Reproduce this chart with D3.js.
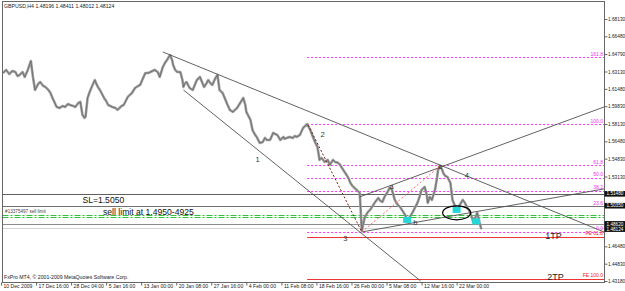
<!DOCTYPE html>
<html>
<head>
<meta charset="utf-8">
<script src="https://cdn.jsdelivr.net/npm/d3@7"></script>
<style>
  body { margin: 0; background: #fff; }
  svg { display: block; }
  text { font-family: "Liberation Sans", Arial, sans-serif; }
</style>
</head>
<body>
<div id="chart"></div>
<script>
// GBPUSD H4
var timeLabels = ["10 Dec 2009", "17 Dec 16:00", "28 Dec 04:00", "5 Jan 16:00", "13 Jan 00:00",
  "20 Jan 08:00", "27 Jan 16:00", "4 Feb 00:00", "11 Feb 08:00", "18 Feb 16:00",
  "26 Feb 00:00", "5 Mar 08:00", "12 Mar 16:00", "22 Mar 00:00"];
var barsPerLabel = 34;

// 1.51480 / 1.49830 / 1.48130 sit under the black price tags, so they are not shown
var priceTicks = [1.68130, 1.66480, 1.64790, 1.63130, 1.61480, 1.59830, 1.58130, 1.56480,
  1.54830, 1.53130, 1.46480, 1.44830, 1.43180];

// bar number / close
var barNo = [2,5,8,11,14,16,18,21,23,26,29,31,33,36,38,41,43,46,48,50,54,57,60,62,65,67,70,72,75,77,
  79,81,82,84,86,88,91,93,94,96,98,100,102,104,106,108,111,113,115,117,119,121,123,125,127,130,133,135,137,140,
  143,145,147,149,152,154,157,159,161,164,166,167,169,171,174,176,177,178,180,183,186,188,190,193,195,197,199,201,203,205,
  208,210,212,215,217,219,222,225,227,229,232,235,237,238,240,242,244,246,248,251,254,256,258,261,264,266,268,271,274,275,
  277,280,283,285,287,290,293,295,297,300,303,305,307,309,311,314,317,319,322,324,327,329,332,334,337,339,341,343,346,348,
  350,351,353,356,358,360,363,366,368,370,372,375,377,379,382,385,387,389,392,394,396,399,402,404,406,408,411,413,414,416,
  418,421,423,424,426,428,429,431,433,436,437,438,440,442,444,445,448,450,452,455,457,458,460,462,464,466];
var closes = [1.6299,1.6328,1.6289,1.6318,1.6308,1.6270,1.6280,1.6308,1.6261,1.6328,1.6413,1.6261,1.6137,1.6194,1.6213,1.6175,1.6166,1.6137,1.6108,1.6061,
  1.5975,1.5966,1.5985,1.5975,1.6004,1.5994,1.5985,1.5975,1.6013,1.6023,1.5900,1.5871,1.5881,1.6061,1.6118,1.6166,1.6232,1.6185,1.6166,1.6137,
  1.6099,1.6061,1.6032,1.5994,1.5985,1.5975,1.5966,1.5947,1.5966,1.5985,1.5994,1.6032,1.6071,1.6090,1.6108,1.6156,1.6175,1.6185,1.6232,1.6299,
  1.6299,1.6308,1.6318,1.6328,1.6308,1.6261,1.6356,1.6394,1.6423,1.6470,1.6423,1.6375,1.6328,1.6308,1.6308,1.6232,1.6166,1.6194,1.6213,1.6156,
  1.6137,1.6185,1.6232,1.6261,1.6213,1.6166,1.6194,1.6232,1.6204,1.6185,1.6251,1.6280,1.6137,1.6108,1.6061,1.6013,1.5947,1.5928,1.5947,1.5966,
  1.6013,1.6061,1.5994,1.5928,1.5890,1.5852,1.5756,1.5718,1.5690,1.5633,1.5642,1.5680,1.5661,1.5661,1.5728,1.5718,1.5709,1.5661,1.5690,1.5671,
  1.5680,1.5690,1.5680,1.5699,1.5690,1.5709,1.5775,1.5794,1.5813,1.5756,1.5680,1.5633,1.5595,1.5471,1.5490,1.5452,1.5471,1.5423,1.5471,1.5452,
  1.5443,1.5423,1.5376,1.5347,1.5300,1.5252,1.5223,1.5204,1.5176,1.5157,1.4795,1.4842,1.4928,1.4976,1.4995,1.5024,1.5071,1.5109,1.5081,1.5071,
  1.5119,1.5166,1.5204,1.5195,1.5090,1.5042,1.5024,1.4995,1.4948,1.4900,1.4919,1.4967,1.5024,1.5062,1.5119,1.5185,1.5214,1.5138,1.5062,1.5119,
  1.5090,1.5185,1.5300,1.5376,1.5414,1.5376,1.5347,1.5318,1.5309,1.5252,1.5166,1.5090,1.5042,1.5014,1.5024,1.5042,1.5090,1.5062,1.5024,1.4976,
  1.4919,1.4881,1.4919,1.4967,1.4881,1.4812];

// trend lines [bar, price] pairs
var trendLines = [
  [[157, 1.6499], [585, 1.4785]],
  [[177, 1.6137], [407, 1.4319]],
  [[348, 1.5119], [585, 1.5975]],
  [[350, 1.4785], [585, 1.5195]]
];
var waveDotted = [[298, 1.5804], [350, 1.4785]];
var fibDiagonal = [[350, 1.4785], [426, 1.5414]];

// fibo retracement + expansion
var fibLow = 1.4785, fibHigh = 1.5813, fibStartBar = 297;
var fibRatios = [0, 23.6, 38.2, 50.0, 61.8, 100.0, 161.8];
var feLevels = [1.4738, 1.4338];
var feNames = ["FE 61.8", "FE 100.0"];

// horizontal lines
var greyLevels = [1.5148, 1.5035, 1.4862, 1.4818];
var greenLevels = [1.4950, 1.4925];
var tagLevels = [1.5148, 1.5035, 1.4862, 1.4812];
var tagTexts = ["1.51480", "1.50350", "1.48620", "1.48124"];

// markers
var waveNames = ["1", "2", "3", "a", "b", "c", "4"];
var waveBars = [249, 312, 334, 379, 402, 426, 452];
var wavePrices = [1.5480, 1.5718, 1.4728, 1.5223, 1.4881, 1.5414, 1.5328];
var boxBars = [394, 442, 461];
var boxPrices = [1.4900, 1.4995, 1.4886];
var circleBar = 442, circlePrice = 1.4967;

var svgWidth = 625, svgHeight = 291;
var plot = { left: 2.5, top: 1.5, right: 604.5, bottom: 282.5 };

var svg = d3.select("#chart").append("svg")
  .attr("width", svgWidth)
  .attr("height", svgHeight);

var x = d3.scaleLinear().domain([0, 584]).range([1, 603]);
var y = d3.scaleLinear().domain([1.4318, 1.6813]).range([281, 19]);

svg.append("clipPath").attr("id", "clip")
  .append("rect")
  .attr("x", plot.left).attr("y", plot.top)
  .attr("width", plot.right - plot.left).attr("height", plot.bottom - plot.top);

var g = svg.append("g").attr("clip-path", "url(#clip)");

function py(p) { return Math.round(y(p)) + 0.5; }

// fibo levels
var fibs = fibRatios.map(function(r) { return { r: r, p: fibLow + (fibHigh - fibLow) * r / 100 }; });
g.selectAll(".fib").data(fibs).enter().append("line")
  .attr("x1", x(fibStartBar)).attr("x2", plot.right)
  .attr("y1", d => py(d.p)).attr("y2", d => py(d.p))
  .attr("stroke", "#ff33ff").attr("stroke-dasharray", "2,2");

g.selectAll(".fe").data(feLevels).enter().append("line")
  .attr("x1", x(fibStartBar)).attr("x2", plot.right)
  .attr("y1", d => py(d)).attr("y2", d => py(d))
  .attr("stroke", "#ee3333");

// grey horizontal lines
var greyCols = ["#606060", "#707070", "#8c8c8c", "#d4d4d4"];
g.selectAll(".hl").data(greyLevels).enter().append("line")
  .attr("x1", plot.left).attr("x2", plot.right)
  .attr("y1", d => py(d)).attr("y2", d => py(d))
  .attr("stroke", (d, i) => greyCols[i]);

g.selectAll(".gl").data(greenLevels).enter().append("line")
  .attr("x1", plot.left).attr("x2", plot.right)
  .attr("y1", d => py(d)).attr("y2", d => py(d))
  .attr("stroke", "#2fc23a").attr("stroke-dasharray", "6,2,2,2");

// price
var priceLine = d3.line()
  .x((d, i) => x(barNo[i]))
  .y(d => y(d));

g.append("path").datum(closes)
  .attr("d", priceLine)
  .attr("fill", "none").attr("stroke", "#a0a0a0").attr("stroke-width", 2.6)
  .attr("stroke-linejoin", "round");
g.append("path").datum(closes)
  .attr("d", priceLine)
  .attr("fill", "none").attr("stroke", "#666").attr("stroke-width", 0.8);

// trend lines
g.selectAll(".tl").data(trendLines).enter().append("line")
  .attr("x1", d => x(d[0][0])).attr("y1", d => y(d[0][1]))
  .attr("x2", d => x(d[1][0])).attr("y2", d => y(d[1][1]))
  .attr("stroke", "#505050").attr("stroke-width", 0.9);

g.append("line")
  .attr("x1", x(waveDotted[0][0])).attr("y1", y(waveDotted[0][1]))
  .attr("x2", x(waveDotted[1][0])).attr("y2", y(waveDotted[1][1]))
  .attr("stroke", "#7a1f1f").attr("stroke-dasharray", "2,2");

g.append("line")
  .attr("x1", x(fibDiagonal[0][0])).attr("y1", y(fibDiagonal[0][1]))
  .attr("x2", x(fibDiagonal[1][0])).attr("y2", y(fibDiagonal[1][1]))
  .attr("stroke", "#ff6a6a").attr("stroke-dasharray", "2,2");

// cyan boxes
g.selectAll(".box").data(boxBars).enter().append("rect")
  .attr("x", d => x(d) - 4).attr("y", (d, i) => y(boxPrices[i]) - 3)
  .attr("width", 8).attr("height", 6)
  .attr("fill", "#22d8d8");

g.append("ellipse")
  .attr("cx", x(circleBar)).attr("cy", y(circlePrice))
  .attr("rx", 14).attr("ry", 7)
  .attr("fill", "none").attr("stroke", "#000").attr("stroke-width", 1.2);

// wave labels
g.selectAll(".wave").data(waveNames).enter().append("text")
  .attr("x", (d, i) => x(waveBars[i]))
  .attr("y", (d, i) => y(wavePrices[i]))
  .attr("dy", "0.35em")
  .attr("text-anchor", "middle")
  .attr("font-size", 7.5)
  .attr("fill", "#333")
  .text(d => d);

// fib labels
g.selectAll(".fibt").data(fibs).enter().append("text")
  .attr("x", 603).attr("y", d => y(d.p) - 1.5)
  .attr("text-anchor", "end").attr("font-size", 5).attr("fill", "#f030f0")
  .text(d => d.r.toFixed(1));

g.selectAll(".fet").data(feLevels).enter().append("text")
  .attr("x", 603).attr("y", d => y(d) - 1.5)
  .attr("text-anchor", "end").attr("font-size", 5).attr("fill", "#f02020")
  .text((d, i) => feNames[i]);

// order texts
g.append("text").attr("x", x(79)).attr("y", y(1.5062))
  .attr("font-size", 8.6).attr("fill", "#111").text("SL=1.5050");
g.append("text").attr("x", x(99)).attr("y", y(1.4947))
  .attr("font-size", 8.6).attr("fill", "#111").text("sell limit at 1.4950-4925");
g.append("text").attr("x", x(4)).attr("y", y(1.4961))
  .attr("font-size", 4.6).attr("fill", "#444").text("#13375497 sell limit");
g.append("text").attr("x", x(528)).attr("y", y(1.4719))
  .attr("font-size", 9).attr("fill", "#222").text("1TP");
g.append("text").attr("x", x(530)).attr("y", y(1.4328))
  .attr("font-size", 9).attr("fill", "#222").text("2TP");

// frame
svg.append("rect")
  .attr("x", plot.left).attr("y", plot.top)
  .attr("width", plot.right - plot.left).attr("height", plot.bottom - plot.top)
  .attr("fill", "none").attr("stroke", "#666");

// price axis
var rightAxis = d3.axisRight(y)
  .tickValues(priceTicks)
  .tickFormat(d3.format(".5f"))
  .tickSize(3).tickPadding(0.5);

var ra = svg.append("g")
  .attr("transform", `translate(${plot.right}, 0)`)
  .call(rightAxis);
ra.select(".domain").remove();
ra.selectAll(".tick line").attr("stroke", "#666");
ra.selectAll(".tick text").attr("font-size", 4.75).attr("fill", "#222")
  .attr("font-family", "Liberation Sans, Arial, sans-serif");

// black price tags
var tags = svg.selectAll(".tag").data(tagLevels).enter().append("g")
  .attr("transform", d => `translate(${plot.right}, ${y(d)})`);
tags.append("rect").attr("x", 0).attr("y", -2.8).attr("width", 21).attr("height", 5.6)
  .attr("fill", "#111");
tags.append("text").attr("x", 2).attr("dy", "0.35em")
  .attr("font-size", 4.7).attr("fill", "#fff")
  .text((d, i) => tagTexts[i]);

// time axis
var tickBars = timeLabels.map((d, i) => i * barsPerLabel);
var bottomAxis = d3.axisBottom(x)
  .tickValues(tickBars)
  .tickFormat((d, i) => timeLabels[i])
  .tickSize(3);

var ba = svg.append("g")
  .attr("transform", `translate(0, ${plot.bottom})`)
  .call(bottomAxis);
ba.select(".domain").remove();
ba.selectAll(".tick line").attr("stroke", "#666");
ba.selectAll(".tick text")
  .attr("text-anchor", "start").attr("x", 2).attr("y", 2).attr("dy", "0.71em")
  .attr("font-size", 5.1).attr("fill", "#222")
  .attr("font-family", "Liberation Sans, Arial, sans-serif");

// header + copyright
svg.append("text").attr("x", 4).attr("y", 8)
  .attr("font-size", 5.2).attr("fill", "#222")
  .text("GBPUSD,H4  1.48196 1.48411 1.48012 1.48124");
svg.append("text").attr("x", 4).attr("y", 278.5)
  .attr("font-size", 5.2).attr("fill", "#222")
  .text("FxPro MT4, \u00a9 2001-2009 MetaQuotes Software Corp.");
</script>
</body>
</html>
